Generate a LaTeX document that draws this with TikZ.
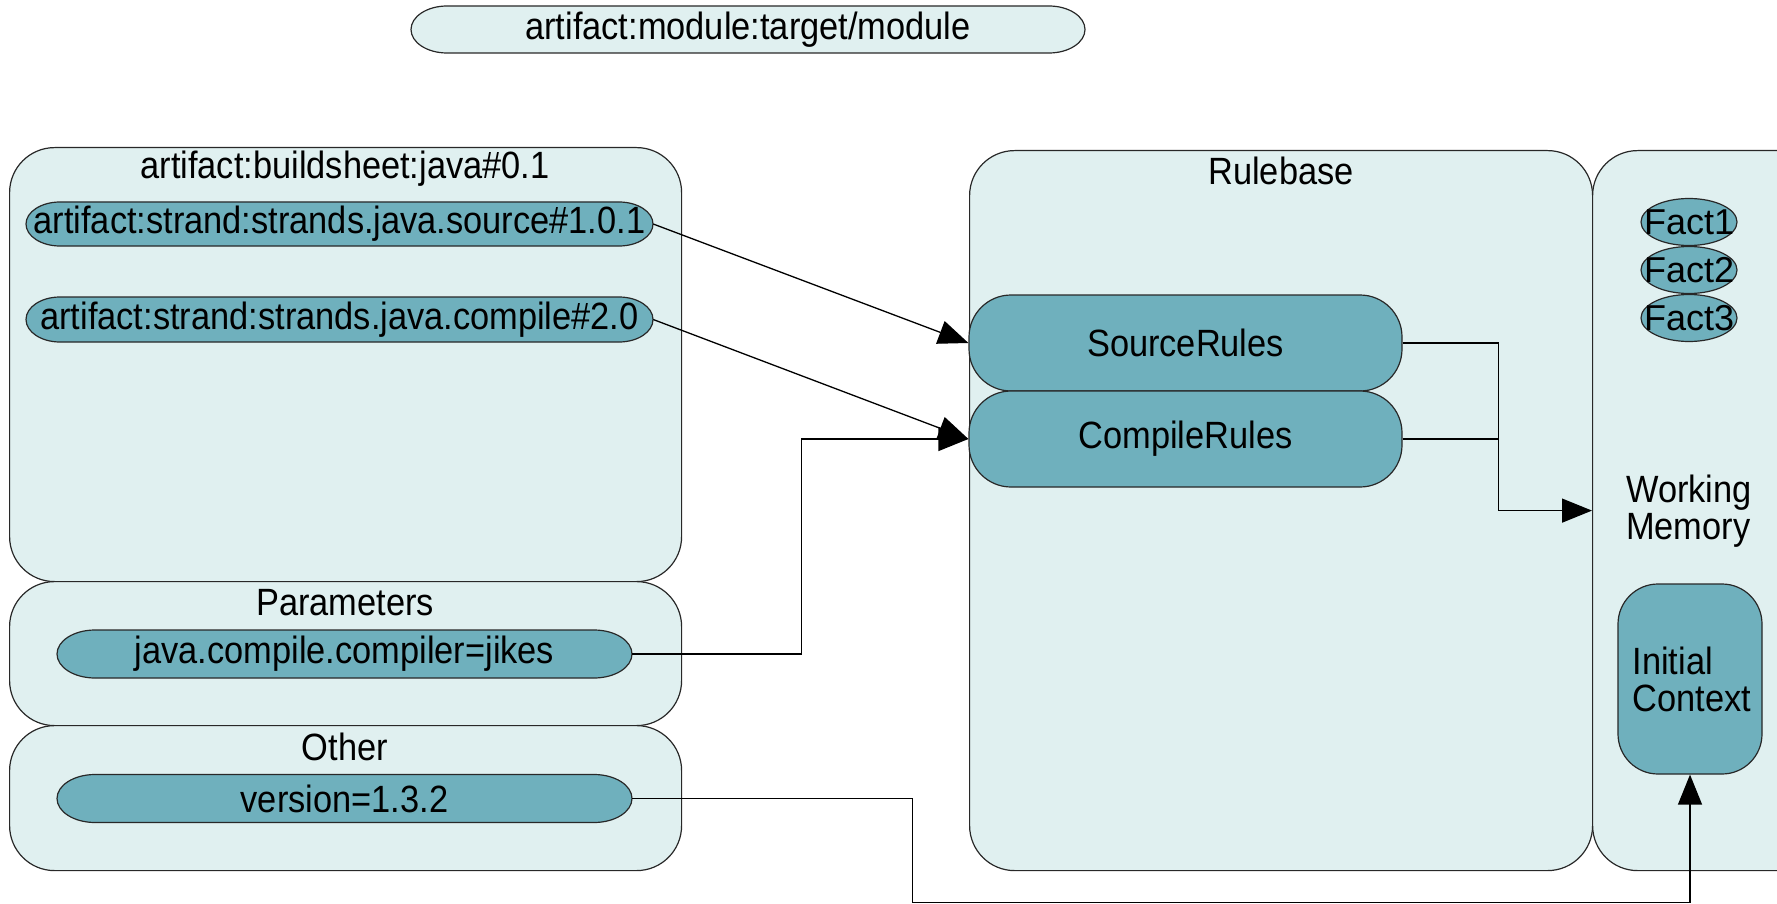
\documentclass[tikz,border=0pt]{standalone}
\usepackage{fontspec}
\setmainfont{Liberation Sans}[FakeStretch=0.905]
\newfontfamily\factfont{Liberation Sans}
\usetikzlibrary{arrows.meta,shapes.geometric,calc}
\definecolor{lightfill}{RGB}{224,240,240}
\definecolor{darkfill}{RGB}{111,176,189}
\definecolor{edge}{RGB}{40,40,40}
% #1 name, #2 cx, #3 cy, #4 half width, #5 half height, #6 end radius, #7 fill, #8 text
\newcommand\mypill[8]{%
  \path[draw=edge, fill=#7, line width=1.2pt]
    (#2-#4+#6, #3-#5) -- (#2+#4-#6, #3-#5)
    arc[start angle=90, end angle=-90, x radius=#6pt, y radius=#5pt]
    -- (#2-#4+#6, #3+#5)
    arc[start angle=270, end angle=90, x radius=#6pt, y radius=#5pt] -- cycle;
  \node[lbl, minimum width=2*#4pt, minimum height=2*#5pt] (#1) at (#2,#3) {#8};
}
\begin{document}
\begin{tikzpicture}[x=1pt,y=-1pt,
  font=\fontsize{38}{37}\selectfont,
  container/.style={draw=edge, line width=1.2pt, fill=lightfill, rounded corners=45pt, inner sep=0pt, anchor=north west},
  pill/.style={draw=edge, line width=1.2pt, fill=darkfill, inner sep=0pt},
  fact/.style={pill, ellipse, minimum width=96pt, minimum height=47pt, font=\factfont\fontsize{36}{38}\selectfont},
  lbl/.style={inner sep=0pt},
  conn/.style={draw=black, line width=1.3pt},
  arr/.style={conn, -{Triangle[length=30pt,width=24pt]}}]
\useasboundingbox (0,0) rectangle (1777,904);
\clip (0,0) rectangle (1777,904);
% containers
\node[container, minimum width=672pt, minimum height=434pt] (bs) at (9,147) {};
\node[container, minimum width=672pt, minimum height=144pt] (par) at (9,581) {};
\node[container, minimum width=672pt, minimum height=145pt] (oth) at (9,725) {};
\node[container, minimum width=623pt, minimum height=720pt] (rb) at (969,150) {};
\node[container, minimum width=240pt, minimum height=720pt] (wm) at (1592,150) {};
\mypill{mod}{748}{29.5}{337}{23.5}{36}{lightfill}{artifact:module:target/module}
% labels
\node[lbl] (bslabel) at (345,169) {artifact:buildsheet:java\#0.1};
\node[lbl] (rblabel) at (1281,171) {Rulebase};
\node[lbl] (parlabel) at (345,603) {Parameters};
\node[lbl] (othlabel) at (345,747) {Other};
\node[lbl, align=left, anchor=west] (wmtext) at (1626,511) {Working\\Memory};
% pills
\mypill{src}{339.5}{224}{313.5}{22}{34}{darkfill}{artifact:strand:strands.java.source\#1.0.1}
\mypill{cmp}{339.5}{319.5}{313.5}{22.5}{34}{darkfill}{artifact:strand:strands.java.compile\#2.0}
\mypill{jik}{344.5}{654}{287.5}{24}{38}{darkfill}{java.compile.compiler=jikes}
\mypill{ver}{344.5}{798.5}{287.5}{24}{38}{darkfill}{version=1.3.2}
% rules
\node[pill, rounded corners=42pt, minimum width=433pt, minimum height=96pt] (sr) at (1185.5,343) {SourceRules};
\node[pill, rounded corners=42pt, minimum width=433pt, minimum height=96pt] (cr) at (1185.5,439) {CompileRules};
% facts
\node[fact] (f1) at (1689,222) {\makebox[0pt]{Fact1}};
\node[fact] (f2) at (1689,270) {\makebox[0pt]{Fact2}};
\node[fact] (f3) at (1689,318) {\makebox[0pt]{Fact3}};
% initial context
\node[pill, rounded corners=40pt, minimum width=144pt, minimum height=190pt] (ic) at (1690,679) {};
\node[lbl, align=left, anchor=west] (ictext) at ([xshift=15pt]ic.west) {Initial\\Context};
% connectors
\draw[arr] (src.east) -- (sr.west);
\draw[arr] (cmp.east) -- (cr.west);
\draw[arr] (jik.east) -- ++(169,0) |- (cr.west);
\draw[conn] (cr.east) -- ++(96,0);
\draw[arr] (sr.east) -- ++(96,0) |- (wm.west);
\draw[arr] (ver.east) -- ++(280,0) -- ++(0,104) -| (ic.south);
\end{tikzpicture}
\end{document}
